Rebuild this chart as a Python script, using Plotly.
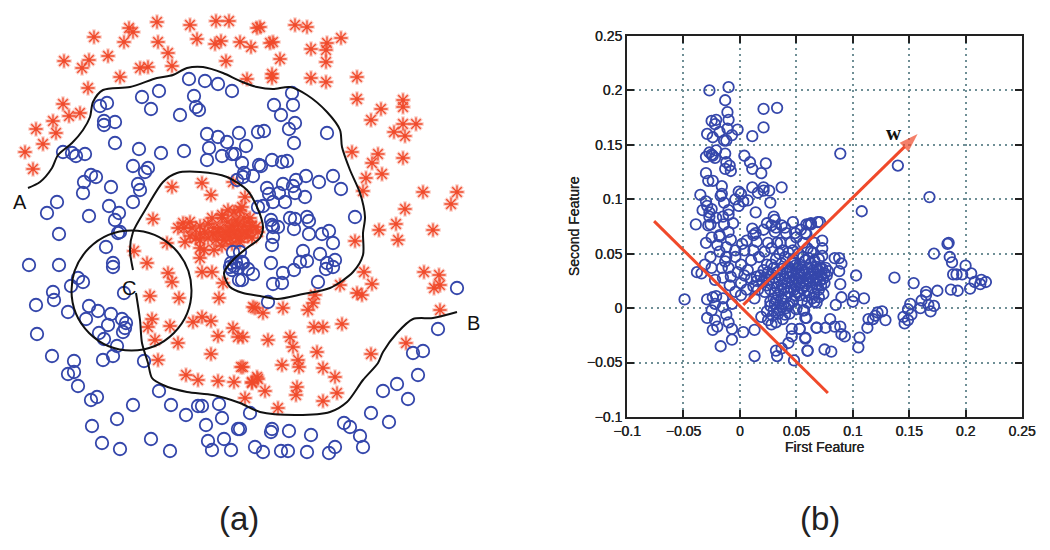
import plotly.graph_objects as go

# ---------- panel (a): values ----------
class1_a = [(189,79),(205,81),(218,84),(232,91),(159,91),(142,97),(151,109),(194,96),(196,107),(199,110),(180,115),(100,106),(107,103),(104,121),(104,125),(115,122),(115,143),(139,149),(161,153),(184,151),(207,134),(218,137),(227,142),(239,133),(246,146),(209,148),(207,160),(222,156),(232,154),(235,154),(242,163),(244,173),(243,177),(253,176),(63,152),(72,153),(76,156),(85,154),(133,166),(148,168),(145,172),(91,175),(96,177),(84,182),(111,187),(138,184),(140,190),(83,193),(133,202),(109,206),(119,213),(115,220),(57,202),(47,213),(89,216),(59,234),(118,233),(120,232),(258,132),(259,165),(258,207),(237,180)]
class1_b = [(292,93),(274,105),(293,105),(281,115),(295,123),(289,129),(264,131),(327,133),(294,143),(272,160),(261,166),(282,162),(287,161),(306,176),(333,176),(319,182),(341,189),(296,180),(293,186),(283,184),(267,188),(269,194),(279,193),(295,193),(305,197),(285,202),(273,202),(263,206),(290,218),(295,219),(307,217),(309,221),(355,217),(294,229),(271,220),(272,225),(273,227),(278,227),(309,234),(329,231),(322,234),(273,237)]
class1_c = [(333,243),(272,245),(303,251),(320,254),(335,260),(307,261),(300,262),(271,263),(327,263),(333,267),(326,269),(294,270),(283,273),(243,263),(248,269),(253,274),(242,280),(282,283),(273,284),(318,282),(268,302),(457,288),(438,329),(423,351),(413,353),(418,375),(397,384),(383,391),(408,399),(371,413),(389,422),(250,413),(344,423),(350,427),(360,436),(363,447),(289,431),(272,429),(271,432),(311,435),(240,429),(255,447),(263,452),(281,451),(288,451),(307,452),(335,447),(329,453)]
class1_d = [(29,265),(59,265),(106,247),(113,263),(113,267),(78,278),(83,282),(71,286),(53,292),(54,300),(36,305),(68,312),(124,293),(89,306),(98,311),(86,319),(111,314),(108,325),(122,319),(126,323),(125,328),(123,332),(37,334),(99,333),(104,339),(117,346),(113,356),(103,360),(52,356),(74,361),(74,372),(68,374),(78,386),(144,361),(97,397),(91,400),(159,391),(133,405),(171,405),(186,415),(198,406),(202,406),(219,404),(222,418),(117,419),(92,426),(206,425),(238,429),(151,439),(102,443),(120,449),(170,451),(208,441),(212,450),(224,439),(231,450),(233,252),(240,252),(230,267),(232,270),(242,262),(239,280),(234,266),(236,262),(231,263),(238,268)]
class2_a = [(94,37),(129,28),(133,32),(124,42),(157,22),(158,42),(190,25),(197,39),(216,21),(229,21),(257,28),(221,41),(215,44),(240,42),(251,47),(168,53),(172,66),(226,61),(64,61),(89,60),(82,68),(108,56),(140,68),(148,67),(120,77),(88,88),(247,79),(63,104),(69,116),(80,113),(53,121),(36,129),(56,133),(43,144),(25,152),(33,169)]
class2_b = [(260,27),(295,25),(307,27),(341,38),(327,43),(273,42),(270,43),(311,49),(326,50),(280,59),(326,62),(272,74),(272,78),(311,78),(326,82),(357,77),(357,99),(403,100),(403,107),(381,109),(371,120),(403,124),(416,124),(394,132),(405,136),(352,152),(378,154),(372,163),(403,158),(382,174),(366,178),(363,191),(423,192),(457,192),(451,204),(405,209),(379,230),(396,224),(433,230),(398,240),(355,241)]
class2_c = [(424,272),(439,275),(440,285),(434,288),(440,310),(364,272),(372,284),(340,285),(357,293),(362,295),(315,295),(313,303),(308,310),(283,308),(253,307),(263,313),(314,327),(323,327),(342,324),(243,337),(268,340),(290,337),(293,347),(317,352),(371,354),(406,343),(298,360),(282,365),(299,367),(323,368),(335,377),(243,367),(252,383),(258,379),(265,391),(297,387),(296,395),(337,393),(245,398),(323,401),(278,408)]
class2_d = [(134,251),(147,263),(168,273),(172,282),(150,296),(179,298),(152,319),(148,327),(170,326),(155,340),(178,343),(158,360),(193,322),(202,317),(211,321),(218,336),(233,328),(238,337),(211,354),(241,367),(186,375),(198,380),(218,381),(234,382),(252,382),(257,377),(255,308),(219,298),(223,283),(202,272),(212,272),(185,242),(167,243),(200,248),(200,258)]
class2_e = [(172,187),(202,183),(211,195),(153,219),(190,222),(183,223),(222,215),(242,207),(245,197),(233,182),(205,232),(213,234),(220,228),(226,232),(232,226),(238,230),(244,226),(250,230),(256,227),(230,238),(236,236),(242,234),(248,236),(224,240),(216,240),(228,222),(236,220),(244,218),(222,218),(248,222),(240,242),(232,244),(222,246),(214,250),(204,250),(196,238),(190,236),(184,228),(200,226),(208,224),(234,212),(240,210),(228,210),(252,238),(218,232),(222,236),(228,234),(234,232),(240,238),(246,232),(252,226),(258,232),(250,218),(238,224),(230,230),(214,228),(208,238),(200,240),(192,228),(178,228),(200,234),(212,218)]

boundary_upper = [(28,188),(40,182),(52,168),(58,155),(72,143),(83,130),(90,117),(93,102),(103,90),(130,87),(157,78),(173,75),(187,68),(203,67),(223,73),(240,81),(257,87),(273,89),(290,87),(307,95),(327,112),(340,130),(342,147),(350,170),(360,193),(365,217),(363,233),(363,255),(353,272),(330,288),(303,294),(277,299),(260,296),(243,293),(230,287),(224,273),(233,260),(247,248),(260,238),(263,227),(257,207),(247,190),(227,177),(200,172),(177,173),(163,182),(147,207),(133,232),(130,250),(133,270)]
boundary_lower = [(136,293),(140,320),(142,343),(148,363),(152,378),(163,385),(187,392),(213,395),(240,403),(260,412),(297,415),(330,412),(347,402),(363,380),(378,363),(383,352),(397,333),(413,319),(433,318),(457,312)]
neighbourhood = {"x0": 71.5, "x1": 191.5, "y0": 230.5, "y1": 350.5}

# ---------- panel (b): values ----------
features_top = [(-.027,.200),(-.010,.203),(-.013,.191),(-.011,.180),(.021,.183),(.033,.184),(-.010,.173),(-.021,.173),(-.025,.172),(-.022,.169),(.021,.166),(-.002,.164),(-.011,.165),(-.018,.162),(-.029,.160),(-.024,.157),(-.007,.159),(.011,.158),(-.014,.154),(-.012,.154),(-.013,.142),(.004,.140),(-.021,.145),(-.027,.143),(-.030,.139),(-.024,.140),(-.025,.141),(-.022,.138),(.009,.134),(-.012,.134),(.023,.133),(-.009,.131),(-.013,.128),(-.008,.126),(.011,.128),(.019,.124),(-.030,.124),(-.028,.117),(-.024,.117),(-.016,.112),(-.016,.105),(-.017,.103),(-.035,.104),(-.014,.097),(-.001,.107),(.001,.105),(-.004,.100),(-.001,.094),(.003,.098),(.007,.099),(.011,.111),(.016,.106),(.021,.111),(.021,.108),(.026,.108),(.037,.111),(.027,.097),(-.030,.098),(-.029,.094),(-.025,.091),(-.027,.088),(-.027,.084),(-.026,.077),(-.039,.077),(-.010,.090),(-.010,.086),(-.015,.084),(-.006,.078),(.014,.088),(.030,.084),(.031,.081),(.024,.078),(.037,.076),(.028,.076),(.032,.074),(.047,.079),(.061,.077),(.063,.078),(.069,.079),(.011,.073),(.021,.072),(.014,.069),(.041,.069),(.049,.069),(.058,.069),(.031,.070),(-.010,.070),(-.018,.067),(-.025,.065)]
features_mid = [(-.030,.060),(-.018,.066),(-.008,.063),(.002,.059),(-.012,.056),(-.004,.053),(.004,.053),(-.026,.047),(-.012,.047),(-.013,.043),(-.004,.047),(-.031,.040),(-.025,.037),(-.038,.033),(-.034,.032),(-.022,.026),(-.010,.037),(-.008,.029),(-.009,.021),(.001,.040),(.007,.035),(.017,.047),(.012,.067),(.015,.061),(.028,.055),(.033,.060),(.047,.053),(.056,.060),(.063,.052),(.037,.041),(.030,.037),(.047,.041),(.021,.035),(.015,.029),(.001,.023),(.006,.017),(-.004,.015),(.001,.012),(.013,.009),(-.049,.008),(-.029,.008),(-.024,.010),(-.021,.011),(-.015,.009),(-.022,.004),(-.007,.004),(-.025,-.002),(-.015,.001),(-.012,-.006),(-.029,-.009),(-.022,-.011),(-.010,-.013),(-.020,-.017),(-.024,-.020),(-.007,-.019),(-.007,-.029),(-.017,-.035),(.003,-.022),(.013,-.020),(.013,-.044),(.032,-.039),(.037,-.037),(.033,-.044),(.048,-.048),(.043,-.032),(.046,-.026),(.046,-.019),(.053,-.019),(.058,-.027),(.060,-.039),(.068,-.018),(.058,-.009),(.057,-.002),(.050,-.001),(.019,-.008),(.025,-.011),(.032,-.013),(.027,.006),(.032,.007),(.037,.001),(.041,0),(.034,-.005),(.038,-.010),(.044,-.005),(.030,-.002),(.024,-.003),(.049,.012),(.066,.006)]
features_right = [(.089,.142),(.140,.131),(.168,.102),(.108,.089),(.071,.079),(.059,.077),(.063,.077),(.059,.068),(.073,.062),(.073,.055),(.065,.051),(.073,.048),(.084,.046),(.088,.046),(.090,.041),(.088,.034),(.103,.030),(.089,.022),(.090,.010),(.085,.003),(.068,.005),(.101,.011),(.100,.006),(.110,.009),(.137,.028),(.154,.023),(.172,.050),(.184,.059),(.185,.060),(.186,.047),(.188,.042),(.200,.039),(.205,.032),(.189,.031),(.192,.031),(.197,.031),(.208,.024),(.213,.022),(.214,.026),(.218,.024),(.204,.018),(.187,.017),(.193,.016),(.175,.016),(.165,.015),(.165,.012),(.161,.007),(.160,0),(.151,.004),(.149,-.001),(.152,-.006),(.145,-.008),(.146,-.014),(.149,-.011),(.167,.003),(.172,.002),(.169,-.003),(.122,-.004),(.126,-.003),(.129,-.011),(.114,-.010),(.118,-.010),(.120,-.007),(.113,-.018),(.106,-.027),(.105,-.036),(.093,-.026),(.090,-.024),(.089,-.017),(.084,-.017),(.080,-.010),(.076,-.018),(.068,-.018),(.059,-.009),(.056,-.002),(.058,-.028),(.060,-.039),(.075,-.038),(.081,-.040),(.053,-.019)]
features_dense = [(.02,.024),(.022,.028),(.024,.021),(.026,.026),(.028,.031),(.03,.023),(.031,.028),(.033,.019),(.033,.033),(.035,.026),(.036,.03),(.037,.022),(.038,.036),(.039,.017),(.04,.027),(.041,.032),(.042,.023),(.043,.038),(.044,.028),(.045,.019),(.045,.034),(.046,.024),(.047,.03),(.048,.042),(.049,.021),(.05,.027),(.05,.036),(.051,.015),(.052,.032),(.053,.023),(.053,.04),(.054,.028),(.055,.018),(.055,.035),(.056,.025),(.057,.031),(.058,.021),(.058,.044),(.059,.027),(.06,.037),(.06,.016),(.061,.032),(.062,.024),(.063,.029),(.063,.041),(.064,.019),(.065,.035),(.065,.026),(.066,.013),(.067,.031),(.068,.022),(.068,.038),(.069,.028),(.07,.034),(.07,.017),(.071,.025),(.072,.03),(.072,.021),(.073,.036),(.074,.027),(.075,.032),(.075,.023),(.076,.037),(.077,.03),(.078,.034),(.012,.02),(.015,.025),(.016,.017),(.018,.03),(.01,.027),(.025,.033),(.028,.04),(.034,.012),(.041,.01),(.047,.045),(.052,.05),(.04,.047),(.035,.05),(.025,.06),(.045,.06),(.05,.065),(.06,.055),(.066,.06),(.03,.009),(.037,.009),(.044,.004),(.055,.007),(.06,.005),(.07,.01),(.074,.013)]
features_extra = [(.027,.002),(.029,-.007),(.031,.004),(.035,-.002),(.039,.004),(.040,-.006),(.043,.002),(.047,.006),(.028,-.015),(.022,.015),(.027,.017),(.031,.014),(.036,.016),(.043,.015),(.048,.017),(.053,.012),(.059,.011),(.064,.009),(.024,.040),(.032,.045),(.038,.053),(.043,.051),(.056,.047),(.061,.046),(.066,.044),(.070,.045),(.054,.072),(.040,.074),(.036,.060),(.022,.052),(.012,.053),(.010,.044),(.004,.030),(-.002,.033),(-.018,.052),(-.020,.058),(-.016,.037),(-.015,.028),(.006,.062),(-.021,.083),(-.028,.076),(-.033,.090),(-.014,.077),(.049,.039),(.051,.030),(.056,.033),(.061,.029),(.066,.033),(.071,.037),(.047,.026),(.059,.023),(.068,.026)]
separator_line = [(-.076,.080),(.078,-.078)]
w_vector = [(.003,.003),(.1575,.160)]

tick_x_vals = [-.1,-.05,0,.05,.1,.15,.2,.25]
tick_x_text = ["\u22120.1","\u22120.05","0","0.05","0.1","0.15","0.2","0.25"]
tick_y_vals = [-.1,-.05,0,.05,.1,.15,.2,.25]
tick_y_text = ["\u22120.1","\u22120.05","0","0.05","0.1","0.15","0.2","0.25"]

BLUE = "#3547ab"
ORANGE = "#f0492a"
GRID = "#6f8f96"
INK = "#222222"


def xy(points):
    return [p[0] for p in points], [p[1] for p in points]


fig = go.Figure()
cx, cy = xy(class1_a + class1_b + class1_c + class1_d)
sx, sy = xy(class2_a + class2_b + class2_c + class2_d + class2_e)

fig.add_trace(go.Scatter(x=sx, y=sy, mode="markers", xaxis="x", yaxis="y", hoverinfo="skip",
    marker=dict(symbol="asterisk-open", size=13, color=ORANGE, opacity=0.28, line=dict(color=ORANGE, width=3.5))))
fig.add_trace(go.Scatter(x=sx, y=sy, mode="markers", xaxis="x", yaxis="y", hoverinfo="skip",
    marker=dict(symbol="asterisk-open", size=11, color=ORANGE, line=dict(color=ORANGE, width=1.3))))
fig.add_trace(go.Scatter(x=cx, y=cy, mode="markers", xaxis="x", yaxis="y", hoverinfo="skip",
    marker=dict(symbol="circle-open", size=12.5, color=BLUE, line=dict(color=BLUE, width=1.8))))
for curve in (boundary_upper, boundary_lower):
    bx, by = xy(curve)
    fig.add_trace(go.Scatter(x=bx, y=by, mode="lines", xaxis="x", yaxis="y", hoverinfo="skip",
        line=dict(color="#111111", width=2, shape="spline", smoothing=0.8)))

fx, fy = xy(features_top + features_mid + features_right + features_dense + features_extra)
fig.add_trace(go.Scatter(x=fx, y=fy, mode="markers", xaxis="x2", yaxis="y2", hoverinfo="skip",
    marker=dict(symbol="circle-open", size=10.5, color=BLUE, line=dict(color=BLUE, width=1.8))))
lx, ly = xy(separator_line)
fig.add_trace(go.Scatter(x=lx, y=ly, mode="lines", xaxis="x2", yaxis="y2", hoverinfo="skip",
    line=dict(color=ORANGE, width=3)))
wx, wy = xy(w_vector)
fig.add_trace(go.Scatter(x=wx, y=wy, mode="lines+markers", xaxis="x2", yaxis="y2", hoverinfo="skip",
    line=dict(color=ORANGE, width=3),
    marker=dict(symbol="arrow", angleref="previous", size=[0, 20], color=ORANGE, line=dict(width=0))))

fig.add_shape(type="circle", xref="x", yref="y", line=dict(color="#111111", width=2), **neighbourhood)

axis_font = dict(family="Liberation Sans", size=14, color=INK, shadow="0.4px 0 0 #222222")
axis_common = dict(showline=True, linecolor=INK, linewidth=2, mirror="ticks", ticks="inside", ticklen=7,
    tickwidth=2, tickcolor=INK, showgrid=True, gridcolor=GRID, griddash="2px,4px", gridwidth=1.5, zeroline=False,
    automargin=False, tickfont=axis_font)

fig.update_layout(
    width=1050, height=550, autosize=False, showlegend=False,
    margin=dict(l=0, r=0, t=0, b=0, pad=0, autoexpand=False), paper_bgcolor="white", plot_bgcolor="white",
    xaxis=dict(domain=[0, 0.5], range=[0, 525], visible=False),
    yaxis=dict(domain=[0, 1], range=[550, 0], visible=False),
    xaxis2=dict(domain=[627/1050, 1022/1050], range=[-.1, .25], anchor="y2",
        tickvals=tick_x_vals, ticktext=tick_x_text, tickangle=0,
        title=dict(text="First Feature", standoff=4, font=axis_font),
        **axis_common),
    yaxis2=dict(domain=[1-417/550, 1-36/550], range=[-.1, .25], anchor="x2",
        tickvals=tick_y_vals, ticktext=tick_y_text,
        title=dict(text="Second Feature", standoff=4, font=axis_font),
        **axis_common),
    annotations=[
        dict(text="A", x=20, y=202, xref="x", yref="y", showarrow=False, font=dict(family="Liberation Sans", size=20, color="#111111")),
        dict(text="B", x=473, y=323, xref="x", yref="y", showarrow=False, font=dict(family="Liberation Sans", size=20, color="#111111")),
        dict(text="C", x=129, y=288, xref="x", yref="y", showarrow=False, font=dict(family="Liberation Sans", size=20, color="#111111")),
        dict(text="(a)", x=239/1050, y=1-518/550, xref="paper", yref="paper", xanchor="center", yanchor="middle", showarrow=False, font=dict(family="Liberation Sans", size=33, color="#222222")),
        dict(text="(b)", x=820/1050, y=1-518/550, xref="paper", yref="paper", xanchor="center", yanchor="middle", showarrow=False, font=dict(family="Liberation Sans", size=33, color="#222222")),
        dict(text="<b>w</b>", x=.137, y=.161, xref="x2", yref="y2", showarrow=False, font=dict(family="Liberation Serif", size=21, color="#111111")),
    ],
)

fig.write_html("out.html", config={"displayModeBar": False},
    post_script="document.body.style.margin='0';document.body.style.overflow='hidden';")
